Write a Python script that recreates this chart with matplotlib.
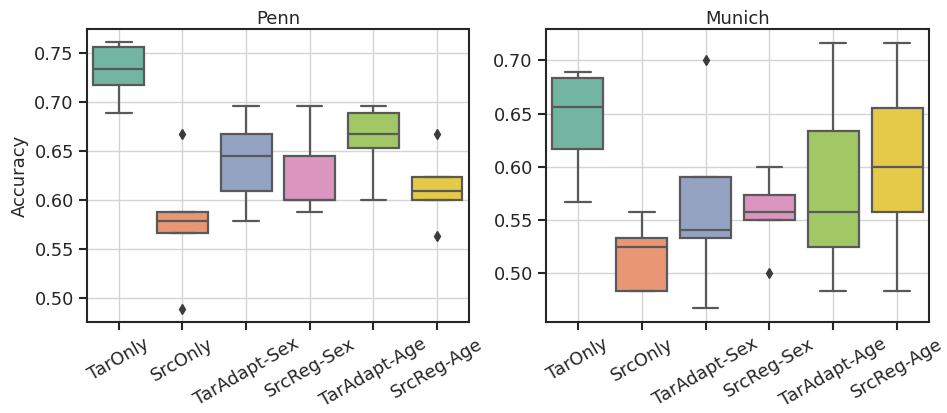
import numpy as np
import pandas as pd
import matplotlib
matplotlib.use("Agg")
import matplotlib.pyplot as plt
import seaborn as sns

methods = ["TarOnly", "SrcOnly", "TarAdapt-Sex", "SrcReg-Sex", "TarAdapt-Age", "SrcReg-Age"]

penn_taronly = [0.6889, 0.7167, 0.7333, 0.7556, 0.7611]
penn_srconly = [0.4889, 0.5657, 0.5778, 0.5870, 0.6667]
penn_taradapt_sex = [0.5778, 0.6089, 0.6444, 0.6667, 0.6956]
penn_srcreg_sex = [0.5870, 0.6000, 0.6000, 0.6444, 0.6956]
penn_taradapt_age = [0.6000, 0.6525, 0.6667, 0.6889, 0.6956]
penn_srcreg_age = [0.5630, 0.6000, 0.6089, 0.6229, 0.6667]

munich_taronly = [0.5667, 0.6170, 0.6561, 0.6834, 0.6887]
munich_srconly = [0.4833, 0.4833, 0.5246, 0.5333, 0.5571]
munich_taradapt_sex = [0.4667, 0.5333, 0.5409, 0.5904, 0.7000]
munich_srcreg_sex = [0.5000, 0.5500, 0.5575, 0.5737, 0.6000]
munich_taradapt_age = [0.4833, 0.5246, 0.5575, 0.6336, 0.7167]
munich_srcreg_age = [0.4833, 0.5571, 0.6000, 0.6555, 0.7167]

penn = [penn_taronly, penn_srconly, penn_taradapt_sex, penn_srcreg_sex, penn_taradapt_age, penn_srcreg_age]
munich = [munich_taronly, munich_srconly, munich_taradapt_sex, munich_srcreg_sex, munich_taradapt_age, munich_srcreg_age]

def to_df(groups):
    rows = []
    for m, vals in zip(methods, groups):
        for v in vals:
            rows.append({"Method": m, "Accuracy": v})
    return pd.DataFrame(rows)

sns.set_theme(style="ticks")
plt.rcParams.update({
    "font.family": ["DejaVu Sans"],
    "font.size": 13,
    "axes.titlesize": 13,
    "axes.labelsize": 13,
    "xtick.labelsize": 12.8,
    "ytick.labelsize": 12.8,
    "axes.edgecolor": "#262626",
    "axes.linewidth": 1.5,
    "xtick.major.width": 1.5,
    "ytick.major.width": 1.5,
    "xtick.major.size": 6,
    "ytick.major.size": 6,
    "xtick.color": "#262626",
    "ytick.color": "#262626",
    "text.color": "#262626",
    "axes.labelcolor": "#262626",
})

fig = plt.figure(figsize=(9.47, 4.13), dpi=100)
ax1 = fig.add_axes([0.0919, 0.221, 0.4031, 0.708])
ax2 = fig.add_axes([0.5766, 0.221, 0.4044, 0.708])

for ax, groups, title in [(ax1, penn, "Penn"), (ax2, munich, "Munich")]:
    df = to_df(groups)
    sns.boxplot(data=df, x="Method", y="Accuracy", hue="Method", palette="Set2",
                legend=False, ax=ax, linewidth=1.6, width=0.8,
                flierprops=dict(marker="d", markersize=5,
                                markerfacecolor="#3c3c3c", markeredgecolor="#3c3c3c"))
    ax.grid(True, color="#d4d4d4", linewidth=1.0)
    ax.set_axisbelow(True)
    ax.set_title(title, pad=4)
    ax.set_xlabel("")
    ax.tick_params(axis="x", rotation=30)
    for lab in ax.get_xticklabels():
        lab.set_ha("center")

ax1.set_ylabel("Accuracy")
ax2.set_ylabel("")
ax1.set_yticks([0.50, 0.55, 0.60, 0.65, 0.70, 0.75])
ax2.set_yticks([0.50, 0.55, 0.60, 0.65, 0.70])
ax1.set_yticklabels(["0.50", "0.55", "0.60", "0.65", "0.70", "0.75"])
ax2.set_yticklabels(["0.50", "0.55", "0.60", "0.65", "0.70"])
ax1.set_ylim(0.4755, 0.7739)
ax2.set_ylim(0.4542, 0.7292)

fig.savefig("out.png", dpi=100)
